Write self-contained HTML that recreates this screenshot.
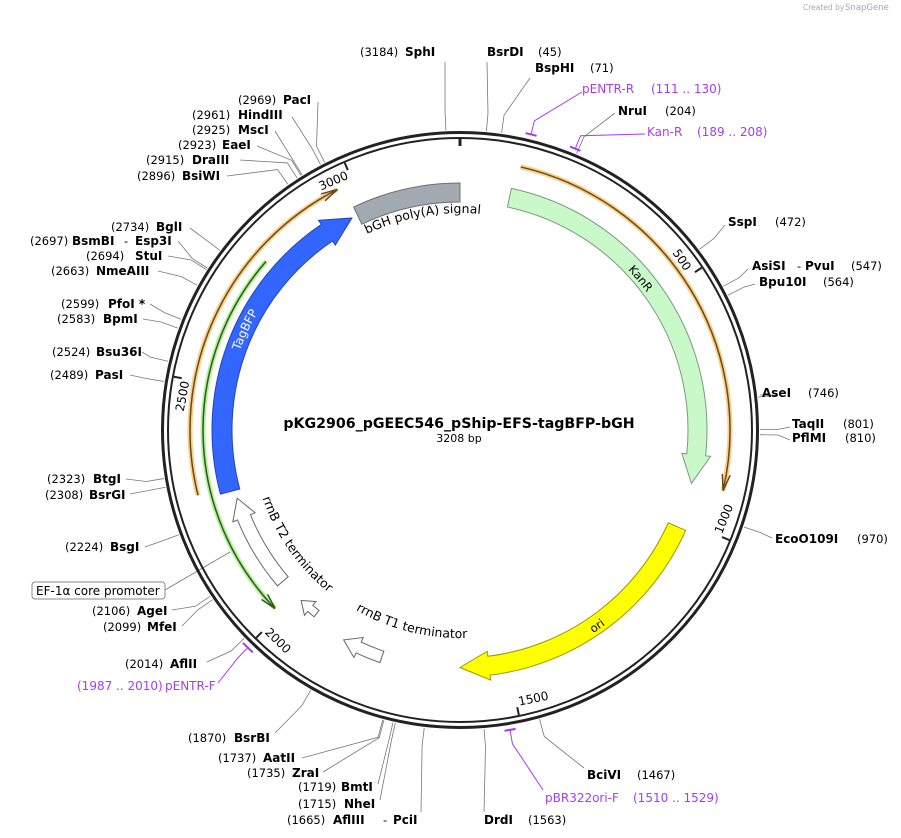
<!DOCTYPE html>
<html><head><meta charset="utf-8"><style>
body{margin:0;background:#fff;}
svg{display:block;font-family:"DejaVu Sans","Liberation Sans",sans-serif;}
.n{font-weight:bold;font-size:12px;fill:#000}
.p{font-size:11.5px;fill:#000}
.m{font-size:12px;fill:#a53cf0}
</style></head><body>
<svg id="s" width="901" height="838" viewBox="0 0 901 838" xmlns="http://www.w3.org/2000/svg">
<text x="803" y="10" font-size="7.5" fill="#aaa">Created by</text>
<text x="845" y="10" font-size="8.5" fill="#9ab">SnapGene</text>
<g id="g"></g>
<g id="lbl">
<text class="p" x="360" y="56">(3184)</text><text class="n" x="405" y="56">SphI</text>
<text class="n" x="487" y="56">BsrDI</text><text class="p" x="538" y="56">(45)</text>
<text class="n" x="535" y="72">BspHI</text><text class="p" x="590" y="72">(71)</text>
<text class="m" x="582" y="93">pENTR-R</text><text class="m" x="651" y="93">(111 .. 130)</text>
<text class="n" x="618" y="115">NruI</text><text class="p" x="665" y="115">(204)</text>
<text class="m" x="647" y="136">Kan-R</text><text class="m" x="697" y="136">(189 .. 208)</text>
<text class="n" x="728" y="226">SspI</text><text class="p" x="775" y="226">(472)</text>
<text class="n" x="752" y="270">AsiSI</text><text class="p" x="797" y="270">-</text><text class="n" x="805" y="270">PvuI</text><text class="p" x="851" y="270">(547)</text>
<text class="n" x="759" y="286">Bpu10I</text><text class="p" x="823" y="286">(564)</text>
<text class="n" x="762" y="397">AseI</text><text class="p" x="808" y="397">(746)</text>
<text class="n" x="792" y="428">TaqII</text><text class="p" x="843" y="428">(801)</text>
<text class="n" x="792" y="442">PflMI</text><text class="p" x="845" y="442">(810)</text>
<text class="n" x="775" y="543">EcoO109I</text><text class="p" x="857" y="543">(970)</text>
<text class="n" x="587" y="779">BciVI</text><text class="p" x="637" y="779">(1467)</text>
<text class="m" x="545" y="802">pBR322ori-F</text><text class="m" x="633" y="802">(1510 .. 1529)</text>
<text class="n" x="484" y="824">DrdI</text><text class="p" x="528" y="824">(1563)</text>
<text class="p" x="287" y="824">(1665)</text><text class="n" x="333" y="824">AflIII</text><text class="p" x="383" y="824">-</text><text class="n" x="393" y="824">PciI</text>
<text class="p" x="298" y="808">(1715)</text><text class="n" x="344" y="808">NheI</text>
<text class="p" x="298" y="791">(1719)</text><text class="n" x="341" y="791">BmtI</text>
<text class="p" x="247" y="777">(1735)</text><text class="n" x="292" y="777">ZraI</text>
<text class="p" x="218" y="762">(1737)</text><text class="n" x="263" y="762">AatII</text>
<text class="p" x="188" y="742">(1870)</text><text class="n" x="234" y="742">BsrBI</text>
<text class="p" x="125" y="668">(2014)</text><text class="n" x="170" y="668">AflII</text>
<text class="m" x="77" y="690">(1987 .. 2010)</text><text class="m" x="165" y="690">pENTR-F</text>
<text class="p" x="92" y="615">(2106)</text><text class="n" x="137" y="615">AgeI</text>
<text class="p" x="103" y="631">(2099)</text><text class="n" x="147" y="631">MfeI</text>
<rect x="32" y="582" width="133" height="17" rx="3" fill="#fff" stroke="#888"/>
<text x="36" y="595" font-size="12">EF-1α core promoter</text>
<text class="p" x="65" y="551">(2224)</text><text class="n" x="110" y="551">BsgI</text>
<text class="p" x="47" y="483">(2323)</text><text class="n" x="93" y="483">BtgI</text>
<text class="p" x="45" y="499">(2308)</text><text class="n" x="89" y="499">BsrGI</text>
<text class="p" x="50" y="379">(2489)</text><text class="n" x="95" y="379">PasI</text>
<text class="p" x="52" y="356">(2524)</text><text class="n" x="96" y="356">Bsu36I</text>
<text class="p" x="57" y="323">(2583)</text><text class="n" x="103" y="323">BpmI</text>
<text class="p" x="61" y="308">(2599)</text><text class="n" x="108" y="308">PfoI *</text>
<text class="p" x="51" y="275">(2663)</text><text class="n" x="96" y="275">NmeAIII</text>
<text class="p" x="86" y="260">(2694)</text><text class="n" x="135" y="260">StuI</text>
<text class="p" x="30" y="245">(2697)</text><text class="n" x="72" y="245">BsmBI</text><text class="p" x="124" y="245">-</text><text class="n" x="135" y="245">Esp3I</text>
<text class="p" x="111" y="231">(2734)</text><text class="n" x="156" y="231">BglI</text>
<text class="p" x="137" y="180">(2896)</text><text class="n" x="182" y="180">BsiWI</text>
<text class="p" x="146" y="164">(2915)</text><text class="n" x="192" y="164">DraIII</text>
<text class="p" x="178" y="149">(2923)</text><text class="n" x="222" y="149">EaeI</text>
<text class="p" x="192" y="134">(2925)</text><text class="n" x="238" y="134">MscI</text>
<text class="p" x="192" y="119">(2961)</text><text class="n" x="238" y="119">HindIII</text>
<text class="p" x="238" y="104">(2969)</text><text class="n" x="283" y="104">PacI</text>
</g>
<text x="459" y="428" text-anchor="middle" font-weight="bold" font-size="14.2">pKG2906_pGEEC546_pShip-EFS-tagBFP-bGH</text>
<text x="459" y="442" text-anchor="middle" font-size="11">3208 bp</text>
</svg>
<script>
var cx=460,cy=430,N=3208,g=document.getElementById('g'),NS='http://www.w3.org/2000/svg';
function P(r,a){a=a*Math.PI/180;return[cx+r*Math.sin(a),cy-r*Math.cos(a)];}
function A(bp){return bp/N*360;}
function el(t,at,par){var e=document.createElementNS(NS,t);for(var k in at)e.setAttribute(k,at[k]);(par||g).appendChild(e);return e;}
function arc(r,a0,a1){var p0=P(r,a0),p1=P(r,a1),sw=a1>a0?1:0,la=Math.abs(a1-a0)>180?1:0;return 'M'+p0+' A'+r+' '+r+' 0 '+la+' '+sw+' '+p1;}
function arcTo(r,a0,a1){var p1=P(r,a1),sw=a1>a0?1:0,la=Math.abs(a1-a0)>180?1:0;return ' A'+r+' '+r+' 0 '+la+' '+sw+' '+p1;}
function feat(ri,ro,a0,a1,h,fill,stroke){
 var d=a1>a0?1:-1,ab=h?a1-d*h:a1,rm=(ri+ro)/2,s='M'+P(ro,a0)+arcTo(ro,a0,ab);
 if(h){s+=' L'+P(ro+5,ab)+' L'+P(rm,a1)+' L'+P(ri-5,ab)+' L'+P(ri,ab);}else s+=' L'+P(ri,ab);
 s+=arcTo(ri,ab,a0)+' Z';el('path',{d:s,fill:fill,stroke:stroke,'stroke-width':1});}
function line(r,a0,a1,col,dark){
 el('path',{d:arc(r,a0,a1),fill:'none',stroke:col,'stroke-width':5});
 el('path',{d:arc(r,a0,a1),fill:'none',stroke:dark,'stroke-width':1.5});
 var d=a1>a0?1:-1,t=P(r,a1),b1=P(r+4,a1-d*3.5),b2=P(r-4,a1-d*3.5);
 el('path',{d:'M'+b1+' L'+t+' L'+b2,fill:'none',stroke:dark,'stroke-width':1.5});}
var E=[[3184,445,62],[45,487,62],[71,530,78],[204,615,113],[472,725,225],[547,748,269],[564,755,284],[746,760,395],[801,790,427],[810,790,440],[970,772,538],
[1467,584,768],[1563,484,812],[1665,421,812],[1715,380,800],[1719,378,784],[1735,323,772],[1737,302,758],[1870,275,733],[2014,207,662],[2106,172,610],[2099,182,626],
[2224,145,547],[2323,126,479],[2308,130,494],[2489,130,375],[2524,142,352],[2583,143,319],[2599,150,304],[2663,158,271],[2694,168,256],[2697,178,241],[2734,190,228],
[2896,227,176],[2915,240,160],[2923,257,146],[2925,275,131],[2961,292,117],[2969,318,102]];
E.forEach(function(e){var a=A(e[0]),p=P(300,a),q=P(318,a);el('path',{d:'M'+p+' L'+q+' L'+e[1]+','+e[2],fill:'none',stroke:'#777','stroke-width':0.8});});
el('path',{d:'M165,590 L230,552',stroke:'#777','stroke-width':0.8});
var PR=[[111,130,582,92],[189,208,645,134],[1987,2010,218,683],[1510,1529,543,790]];
PR.forEach(function(p){var a0=A(p[0]),a1=A(p[1]);el('path',{d:arc(304,a0,a1),fill:'none',stroke:'#a53cf0','stroke-width':2});
 var m=P(305,(a0+a1)/2),q=P(318,(a0+a1)/2);el('path',{d:'M'+m+' L'+q+' L'+p[2]+','+p[3],fill:'none',stroke:'#a53cf0','stroke-width':1});});
el('circle',{cx:cx,cy:cy,r:297.5,fill:'none',stroke:'#222','stroke-width':3});
el('circle',{cx:cx,cy:cy,r:292,fill:'none',stroke:'#222','stroke-width':2});
el('path',{d:'M'+P(284,0)+' L'+P(291,0),stroke:'#222','stroke-width':3});
[500,1000,1500,2000,2500,3000].forEach(function(b){var a=A(b);el('path',{d:'M'+P(283,a)+' L'+P(291,a),stroke:'#222','stroke-width':2});
 var p=P(279,a-3.6),rot=(a>90&&a<270)?a-180:a;var t=el('text',{x:p[0],y:p[1],'font-size':12,'text-anchor':'middle','dominant-baseline':'middle',transform:'rotate('+rot+' '+p[0]+' '+p[1]+')'});t.textContent=b;});
line(270,13,103,'#f9cf8a','#6b4a18');
line(270,256,333,'#f9cf8a','#6b4a18');
line(257,311,226,'#b4f09a','#2d5a1a');
feat(228,247,-25.5,0,0,'#a3a9b0','#6c7075');
feat(228,247,12,103,7,'#c9f9c9','#7a9a7a');
feat(228,247,114,180,7,'#ffff00','#999900');
feat(228,248,255,333,7,'#3366ff','#2244bb');
feat(226,240,229.5,253,5,'#fff','#666');
feat(229,237,218,223,3,'#fff','#666');
feat(234,246,199,209,4,'#fff','#666');
var defs=el('defs',{});
function tp(id,r,a0,a1,txt,col,sz){el('path',{id:id,d:arc(r,a0,a1),fill:'none'},defs);
 var t=el('text',{'font-size':sz||12,fill:col});var q=el('textPath',{href:'#'+id,startOffset:'50%','text-anchor':'middle'},t);q.textContent=txt;}
tp('t1',217,-50,30,'bGH poly(A) signal','#000',12.5);
tp('t2',232,10,90,'KanR','#000',11.5);
tp('t3',234,250,340,'TagBFP','#fff',12);
tp('t4',243,190,100,'ori','#000',11.5);
tp('t5',208,240,148,'rrnB T1 terminator','#000',12.5);
tp('t6',209,285,185,'rrnB T2 terminator','#000',12.5);
</script>
</body></html>
